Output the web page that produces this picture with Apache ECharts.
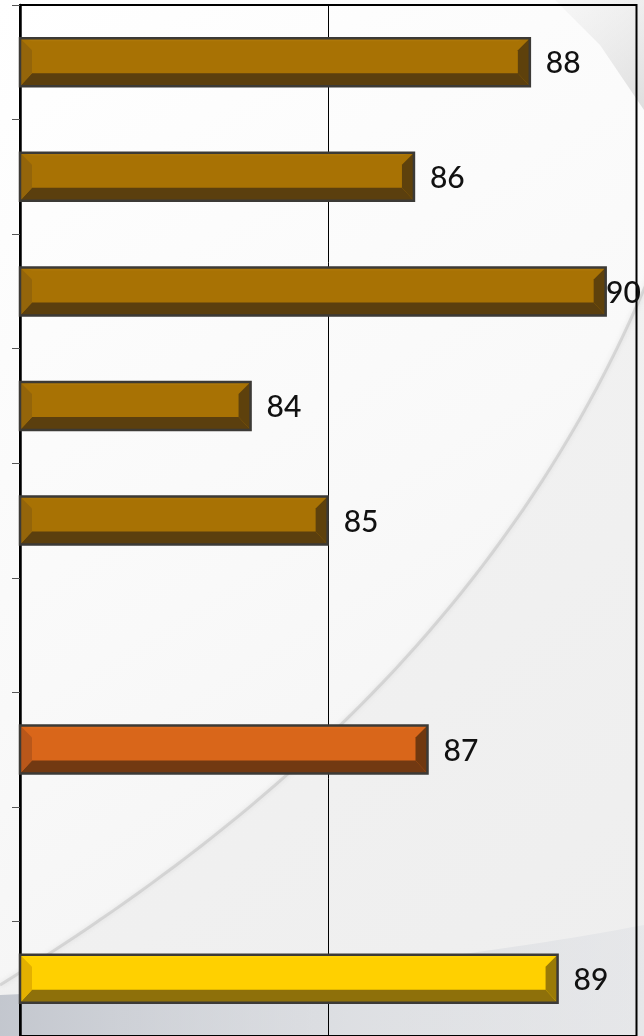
<!DOCTYPE html>
<html>
<head>
<meta charset="utf-8">
<script src="https://cdn.jsdelivr.net/npm/echarts@6/dist/echarts.min.js"></script>
<style>
html,body{margin:0;padding:0;background:#fff;}
#chart{width:644px;height:1036px;}
</style>
</head>
<body>
<div id="chart"></div>
<script>
// ---- data ----
const categories = ['1', '2', '3', '4', '5', '6', '7', '8', '9'];
const values = [88.27, 86.39, 89.5, 83.74, 84.99, null, 86.61, null, 88.72];
const colorKeys = ['brown', 'brown', 'brown', 'brown', 'brown', null, 'orange', null, 'yellow'];
const xTicks = [80, 85, 90];

const X_MIN = 80, X_MAX = 90;
const BAR_H = 48, BEVEL = 12;
const palette = {
  brown:  { main: '#A87204', top: '#AD7709', bottom: '#5B3F0E', left: '#94650A', right: '#5E410C' },
  orange: { main: '#D9661A', top: '#DC6C1F', bottom: '#723912', left: '#B9571A', right: '#70380F' },
  yellow: { main: '#FFD000', top: '#FFD409', bottom: '#8E700A', left: '#E3B000', right: '#9A7A06' }
};

// decorative background curves (cubic bezier sampled to polygons)
function bez(p0, p1, p2, p3, n) {
  const pts = [];
  for (let i = 0; i <= n; i++) {
    const t = i / n, u = 1 - t;
    pts.push([
      u*u*u*p0[0] + 3*u*u*t*p1[0] + 3*u*t*t*p2[0] + t*t*t*p3[0],
      u*u*u*p0[1] + 3*u*u*t*p1[1] + 3*u*t*t*p2[1] + t*t*t*p3[1]
    ]);
  }
  return pts;
}
const swoosh = bez([0, 985], [250, 830], [520, 610], [660, 250], 60);
const lowSwoosh = bez([0, 995], [220, 985], [460, 960], [644, 925], 40);

const chart = echarts.init(document.getElementById('chart'));

function renderItem(params, api) {
  const v = api.value(0);
  const idx = api.value(1);
  if (v == null || isNaN(v)) return null;
  const p0 = api.coord([X_MIN, idx]);
  const p1 = api.coord([v, idx]);
  const cy = p0[1];
  const x0 = p0[0], x1 = p1[0];
  const y0 = cy - BAR_H / 2, y1 = cy + BAR_H / 2;
  const b = BEVEL;
  const c = palette[colorKeys[params.dataIndex]];
  const W = api.getWidth();
  const lx = Math.min(x1 + 16, W - 38);
  return {
    type: 'group',
    children: [
      { type: 'rect', shape: { x: x0, y: y0, width: x1 - x0, height: y1 - y0 },
        style: { fill: c.main } },
      { type: 'polygon', shape: { points: [[x0, y0], [x1, y0], [x1 - b, y0 + 3], [x0 + b, y0 + 3]] },
        style: { fill: c.top } },
      { type: 'polygon', shape: { points: [[x0, y1], [x0 + b, y1 - b - 1], [x1 - b, y1 - b - 1], [x1, y1]] },
        style: { fill: c.bottom } },
      { type: 'polygon', shape: { points: [[x0, y0], [x0 + b, y0 + b], [x0 + b, y1 - b - 1], [x0, y1]] },
        style: { fill: c.left } },
      { type: 'polygon', shape: { points: [[x1, y0], [x1 - b, y0 + b], [x1 - b, y1 - b - 1], [x1, y1]] },
        style: { fill: c.right } },
      { type: 'rect', shape: { x: x0, y: y0, width: x1 - x0, height: y1 - y0 },
        style: { fill: null, stroke: '#3c3a36', lineWidth: 2.5 } },
      { type: 'text',
        style: { x: lx, y: cy + 1.5, text: String(Math.round(v)), fill: '#111',
                 font: '500 30px Lato, "Open Sans", sans-serif', align: 'left', verticalAlign: 'middle' } }
    ]
  };
}

const option = {
  animation: false,
  backgroundColor: '#ffffff',
  graphic: [
    { type: 'rect', z: -20, silent: true,
      shape: { x: 0, y: 0, width: 644, height: 1036 },
      style: { fill: new echarts.graphic.LinearGradient(0, 0, 1, 1, [
        { offset: 0, color: '#ffffff' }, { offset: 0.5, color: '#f9f9f9' }, { offset: 1, color: '#f1f1f1' }]) } },
    { type: 'polygon', z: -19, silent: true,
      shape: { points: swoosh.concat([[660, 1036], [0, 1036]]) },
      style: { fill: new echarts.graphic.LinearGradient(0, 0, 1, 1, [
        { offset: 0, color: '#f3f3f3' }, { offset: 1, color: '#eeeeee' }]) } },
    { type: 'polyline', z: -18, silent: true,
      shape: { points: swoosh },
      style: { stroke: 'rgba(190,190,190,0.5)', lineWidth: 3, shadowBlur: 5, shadowColor: 'rgba(150,150,150,0.4)' } },
    { type: 'polygon', z: -17, silent: true,
      shape: { points: lowSwoosh.concat([[644, 1036], [0, 1036]]) },
      style: { fill: new echarts.graphic.LinearGradient(0, 0, 1, 0, [
        { offset: 0, color: 'rgba(180,185,195,0.75)' }, { offset: 0.55, color: 'rgba(200,204,212,0.45)' },
        { offset: 1, color: 'rgba(215,218,224,0.35)' }]) } },
    { type: 'polygon', z: -16, silent: true,
      shape: { points: [[555, 0], [600, 45], [644, 110], [644, 0]] },
      style: { fill: new echarts.graphic.LinearGradient(0, 0, 1, 1, [
        { offset: 0, color: 'rgba(225,225,225,0.2)' }, { offset: 1, color: 'rgba(210,210,210,0.7)' }]) } }
  ],
  grid: {
    left: 20, top: 5, width: 616.5, height: 1035,
    show: true, borderColor: '#000', borderWidth: 2, backgroundColor: 'transparent'
  },
  xAxis: {
    type: 'value', min: X_MIN, max: X_MAX, interval: 5,
    axisLine: { show: false }, axisTick: { show: false }, axisLabel: { show: false },
    splitLine: { show: true, lineStyle: { color: '#000', width: 1 } }
  },
  yAxis: {
    type: 'category', data: categories, inverse: true,
    axisLine: { show: true, lineStyle: { color: '#000', width: 2.5 } },
    axisTick: { show: true, length: 8, lineStyle: { color: '#555', width: 1 } },
    axisLabel: { show: false },
    splitLine: { show: false }
  },
  series: [{
    type: 'custom',
    renderItem: renderItem,
    encode: { x: 0, y: 1 },
    data: values.map((v, i) => [v == null ? NaN : v, i]),
    z: 5
  }]
};
chart.setOption(option);
</script>
</body>
</html>
